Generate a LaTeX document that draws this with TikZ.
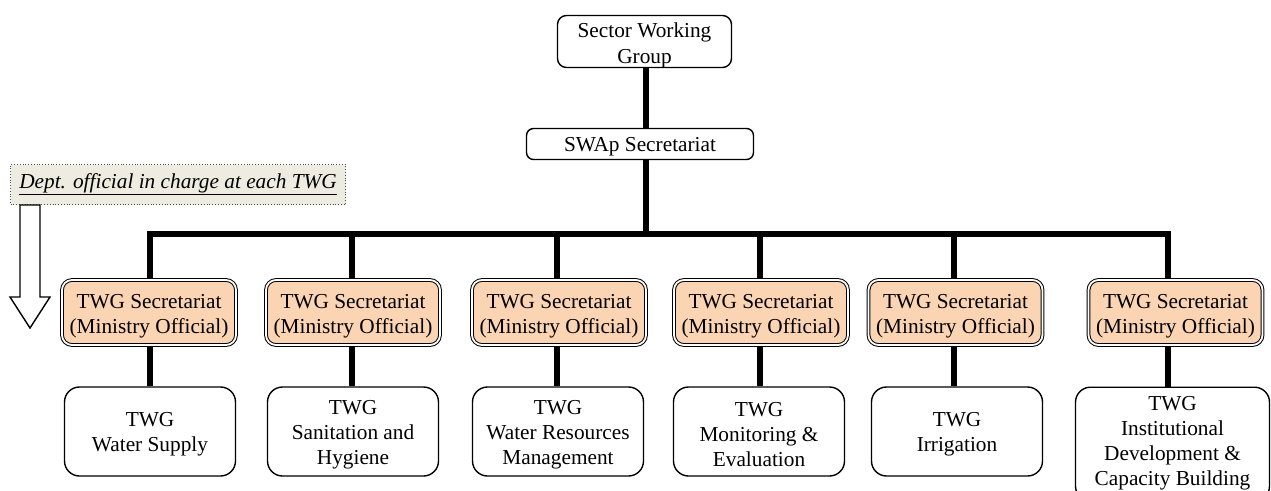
\documentclass[tikz,border=0pt]{standalone}
\usepackage{fontspec}
\setmainfont{Liberation Serif}
\usetikzlibrary{backgrounds}
\definecolor{peach}{HTML}{FBD4B4}
\definecolor{beige}{HTML}{EEECE1}
\tikzset{
  txt/.style={font=\fontsize{21.3}{25}\selectfont, align=center, inner sep=0pt},
  topbox/.style={draw, line width=1.4pt, rounded corners=9pt, fill=white, inner sep=0pt},
  secbox/.style={draw, line width=1pt, double=white, double distance=1.8pt,
    fill=peach, rounded corners=10pt, minimum width=174pt, minimum height=65pt, inner sep=0pt},
  twgbox/.style={draw, line width=1.4pt, rounded corners=15pt, fill=white,
    minimum width=171pt, minimum height=89pt, inner sep=0pt},
  conn/.style={line width=6pt},
}
\begin{document}
\begin{tikzpicture}[x=1pt,y=-1pt]
\useasboundingbox (0,0) rectangle (1271,490);
\clip (0,0) rectangle (1271,490);

% top nodes
\node[topbox, minimum width=174pt, minimum height=52pt] (swg) at (644.5,41.5) {};
\node[txt, font=\fontsize{21.3}{26}\selectfont] (swgt) at ([yshift=-4pt]swg.center) {Sector Working\\Group};
\node[topbox, rounded corners=7pt, minimum width=227pt, minimum height=31pt] (swap) at (640,144) {};
\node[txt] (swapt) at ([yshift=-3pt]swap.center) {SWAp Secretariat};

% dept box
\node[txt, draw=black!70, dotted, line width=0.8pt, fill=beige,
      minimum width=335pt, minimum height=40pt] (dept) at (178,184.5)
  {\underline{\itshape Dept. official in charge at each TWG}};

% hollow arrow
\draw[line width=1.4pt, fill=white, line join=miter]
  (20,205) -- (40,205) -- (40,297) -- (50,297) -- (30,328) -- (10,297) -- (20,297) -- cycle;

% secretariat nodes
\foreach \i/\x in {1/149,2/353,3/559,4/761,5/955.5,6/1175.5}{
  \node[secbox] (s\i) at (\x,312.5) {};
  \node[txt] (s\i t) at ([yshift=-4pt]s\i.center) {TWG Secretariat\\(Ministry Official)};
}

% TWG nodes
\node[twgbox] (t1) at (150,431.5) {};
\node[twgbox] (t2) at (353,431.5) {};
\node[twgbox] (t3) at (558,431.5) {};
\node[twgbox] (t4) at (759,431.5) {};
\node[twgbox] (t5) at (957,431.5) {};
\node[twgbox, minimum width=194pt, minimum height=114pt, anchor=north] (t6) at (1172.5,386.5) {};
\node[txt] (t1t) at ([yshift=-3pt]t1.center) {TWG\\Water Supply};
\node[txt] (t2t) at ([yshift=-3pt]t2.center) {TWG\\Sanitation and\\Hygiene};
\node[txt] (t3t) at ([yshift=-3pt]t3.center) {TWG\\Water Resources\\Management};
\node[txt] (t4t) at ([yshift=-3pt]t4.center) {TWG\\Monitoring \&\\Evaluation};
\node[txt] (t5t) at ([yshift=-3pt]t5.center) {TWG\\Irrigation};
\node[txt] (t6t) at ([yshift=1pt]t6.center) {TWG\\Institutional\\Development \&\\Capacity Building};

% bus coordinates
\coordinate (b1) at (150,234);
\coordinate (b2) at (352,234);
\coordinate (b3) at (557,234);
\coordinate (b4) at (760,234);
\coordinate (b5) at (954,234);
\coordinate (b6) at (1168,234);
\coordinate (bc) at (646,234);

\begin{pgfonlayer}{background}
  \draw[conn] (swg.south -| bc) -- (swap.north -| bc);
  \draw[conn] (swap.south -| bc) -- (bc);
  \draw[conn, line join=miter] (s1.north -| b1) -- (b1) -- (b6) -- (s6.north -| b6);
  \foreach \i in {2,3,4,5}{
    \draw[conn] (b\i) -- (s\i.north -| b\i);
  }
  \foreach \i in {1,...,6}{
    \draw[conn] (s\i.south -| b\i) -- (t\i.north -| b\i);
  }
\end{pgfonlayer}
\end{tikzpicture}
\end{document}
